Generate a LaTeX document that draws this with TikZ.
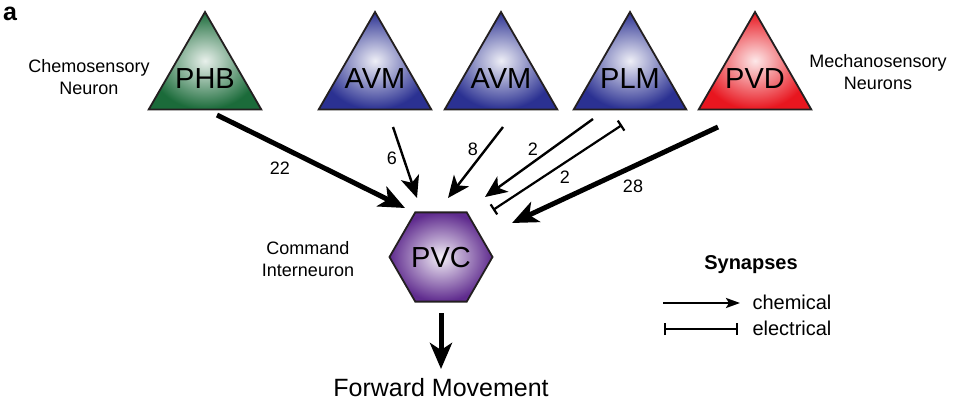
\documentclass[tikz,border=0pt]{standalone}
\usepackage{fontspec}
\setmainfont{Liberation Sans}
\usetikzlibrary{shapes.geometric,arrows.meta}
\definecolor{edgegray}{HTML}{231F20}
\definecolor{phbgreen}{HTML}{1B6B3A}
\definecolor{avmblue}{HTML}{2B3192}
\definecolor{pvdred}{HTML}{E8161F}
\definecolor{pvcpurple}{HTML}{5F2B8E}
\begin{document}
\begin{tikzpicture}[x=1pt,y=-1pt,
  neuron/.style={regular polygon, regular polygon sides=3, minimum size=130pt,
    inner sep=0pt, outer sep=0pt, draw=edgegray, line width=1.8pt,
    shading=radial},
  inter/.style={regular polygon, regular polygon sides=6, minimum size=103pt,
    inner sep=0pt, outer sep=0pt, draw=edgegray, line width=1.8pt,
    shading=radial, inner color=white!92!pvcpurple, outer color=pvcpurple},
  cellname/.style={font=\fontsize{29}{29}\selectfont, inner sep=0pt},
  desc/.style={align=center, font=\fontsize{18}{22}\selectfont},
  num/.style={font=\fontsize{18}{18}\selectfont},
  strongsyn/.style={line width=5pt, -{Stealth[length=26pt,width=22pt,inset=7pt]}},
  weaksyn/.style={line width=2.4pt, -{Stealth[length=22pt,width=19pt,inset=6pt]}},
  gapsyn/.style={line width=2.2pt, {Bar[width=12pt]}-{Bar[width=12pt]}},
]
\useasboundingbox (0,0) rectangle (970,401);

\node[font=\bfseries\fontsize{25}{25}\selectfont] (lbla) at (10,14) {a};

% sensory neurons
\node[neuron, inner color=white!90!phbgreen, outer color=phbgreen] (phb) at (205,77) {};
\node[neuron, inner color=white!92!avmblue, outer color=avmblue] (avma) at (375,77) {};
\node[neuron, inner color=white!92!avmblue, outer color=avmblue] (avmb) at (501,77) {};
\node[neuron, inner color=white!92!avmblue, outer color=avmblue] (plm) at (630,77) {};
\node[neuron, inner color=white!90!pvdred, outer color=pvdred] (pvd) at (755,77) {};
\node[cellname] (phbt) at (205,79) {PHB};
\node[cellname] (avmat) at (375,79) {AVM};
\node[cellname] (avmbt) at (501,79) {AVM};
\node[cellname] (plmt) at (630,79) {PLM};
\node[cellname] (pvdt) at (755,79) {PVD};

\node[desc] (chemo) at (89,77) {Chemosensory\\Neuron};
\node[desc] (mechano) at (878,72) {Mechanosensory\\Neurons};

% command interneuron
\node[inter] (pvc) at (441,257) {};
\node[cellname] (pvct) at (441,258) {PVC};
\node[desc] (cmd) at (308,259) {Command\\Interneuron};

% connector end points
\coordinate (phbS) at (217,115);  \coordinate (phbE) at (405,208);
\coordinate (avmaS) at (393,127); \coordinate (avmaE) at (417,198);
\coordinate (avmbS) at (503,127); \coordinate (avmbE) at (448,198);
\coordinate (plmS) at (593,119);  \coordinate (plmE) at (485,197);
\coordinate (plmgS) at (622,125); \coordinate (plmgE) at (493,210);
\coordinate (pvdS) at (718,127);  \coordinate (pvdE) at (512,223);
\coordinate (pvcS) at (441,313);  \coordinate (fwdE) at (441,369);

\draw[strongsyn] (phbS) -- (phbE);
\draw[weaksyn] (avmaS) -- (avmaE);
\draw[weaksyn] (avmbS) -- (avmbE);
\draw[weaksyn] (plmS) -- (plmE);
\draw[gapsyn] (plmgS) -- (plmgE);
\draw[strongsyn] (pvdS) -- (pvdE);
\draw[strongsyn] (pvcS) -- (fwdE);

\node[num] (n22) at (280,168) {22};
\node[num] (n6) at (392,158) {6};
\node[num] (n8) at (473,149) {8};
\node[num] (n2a) at (533,149) {2};
\node[num] (n2b) at (565,177) {2};
\node[num] (n28) at (633,186) {28};

\node[font=\fontsize{25}{25}\selectfont] (fwd) at (441,388) {Forward Movement};

% legend
\node[font=\bfseries\fontsize{20}{20}\selectfont] (syn) at (751,265) {Synapses};
\coordinate (chS) at (663,303); \coordinate (chE) at (740,303);
\coordinate (elS) at (664,329); \coordinate (elE) at (738,329);
\draw[line width=2.4pt, -{Stealth[length=14pt,width=10pt,inset=3pt]}] (chS) -- (chE);
\draw[line width=2.4pt, {Bar[width=12pt]}-{Bar[width=12pt]}] (elS) -- (elE);
\node[anchor=west, font=\fontsize{20}{20}\selectfont] (chem) at (749,302) {chemical};
\node[anchor=west, font=\fontsize{20}{20}\selectfont] (elec) at (749,328) {electrical};
\end{tikzpicture}
\end{document}
